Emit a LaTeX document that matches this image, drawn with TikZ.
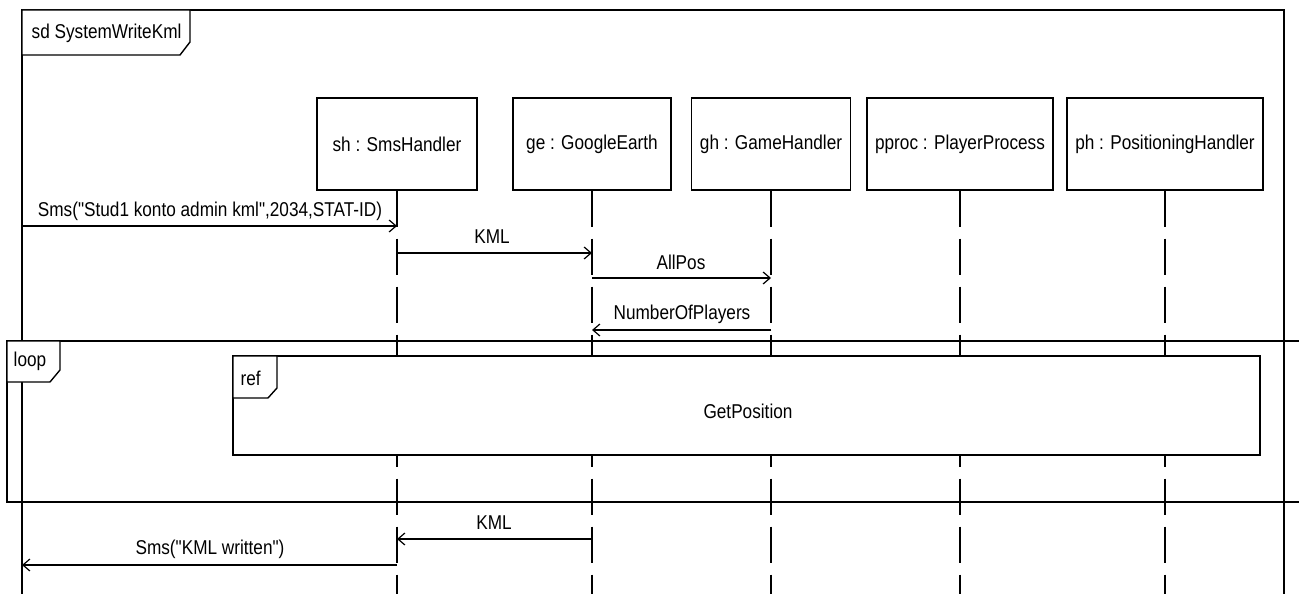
\documentclass[tikz,border=0pt]{standalone}
\usepackage{fontspec}
\setmainfont[FakeStretch=0.86,Ligatures=TeXOff]{Liberation Sans}
\usetikzlibrary{arrows.meta}
\begin{document}
\begin{tikzpicture}[x=1pt,y=-1pt,line width=1.4pt,
  every node/.style={font=\fontsize{20}{23}\selectfont,inner sep=0pt},
  obj/.style={draw,minimum height=92pt},
  lifeline/.style={line width=1.3pt,dash pattern=on 36pt off 12pt},
  msg/.style={line width=1.3pt,-{Straight Barb[length=7pt,width=12pt,line width=1.2pt]}},
  lbl/.style={anchor=center},
  tabbox/.style={draw,fill=white,line width=1.4pt}]
\clip (0,0) rectangle (1299,594);
\fill[white] (0,0) rectangle (1299,594);

% outer sd frame
\draw (22,620) -- (22,10) -- (1284,10) -- (1284,620);
\draw[tabbox] (22,10) -- (190,10) -- (190,42) -- (180,55) -- (22,55) -- cycle;
\node[anchor=west] (sdlbl) at (31,33) {sd SystemWriteKml};

% lifeline heads
\node[obj,minimum width=160pt] (sh) at (397,144) {sh : SmsHandler};
\node[obj,minimum width=158pt] (ge) at (592,144) {ge : GoogleEarth};
\node[obj,minimum width=159pt] (gh) at (771,144) {gh : GameHandler};
\node[obj,minimum width=186pt] (pp) at (960,144) {pproc : PlayerProcess};
\node[obj,minimum width=196pt] (ph) at (1165,144) {ph : PositioningHandler};

\coordinate (bot) at (0,620);
\foreach \n in {sh,ge,gh,pp,ph}{
  \draw[lifeline] (\n.south) -- (\n.south |- bot);
}

% messages
\coordinate (in1) at (22,226);
\coordinate (sh1) at (sh.south |- in1);
\draw[msg] (in1) -- (sh1);
\node[lbl] (t1) at (210,211) {Sms("Stud1 konto admin kml",2034,STAT-ID)};

\coordinate (m2) at (0,253);
\coordinate (sh2) at (sh.south |- m2);
\coordinate (ge2) at (ge.south |- m2);
\draw[msg] (sh2) -- (ge2);
\node[lbl] (t2) at (492,237) {KML};

\coordinate (m3) at (0,278);
\coordinate (ge3) at (ge.south |- m3);
\coordinate (gh3) at (gh.south |- m3);
\draw[msg] (ge3) -- (gh3);
\node[lbl] (t3) at (681,262) {AllPos};

\coordinate (m4) at (0,330);
\coordinate (gh4) at (gh.south |- m4);
\coordinate (ge4) at (ge.south |- m4);
\draw[msg] (gh4) -- (ge4);
\node[lbl] (t4) at (682,314) {NumberOfPlayers};

% loop frame
\draw (1320,341) -- (7,341) -- (7,502) -- (1320,502);
\draw[tabbox] (7,341) -- (60,341) -- (60,370) -- (50,382) -- (7,382) -- cycle;
\node[anchor=west] (looplbl) at (13,361) {loop};

% ref
\draw[fill=white] (233,356) rectangle (1260,455);
\node (refname) at (748,411) {GetPosition};
\draw[tabbox] (233,356) -- (277,356) -- (277,388) -- (268,398) -- (233,398) -- cycle;
\node[anchor=west] (reflbl) at (240,378) {ref};

% return messages
\coordinate (m5) at (0,539);
\coordinate (ge5) at (ge.south |- m5);
\coordinate (sh5) at (sh.south |- m5);
\draw[msg] (ge5) -- (sh5);
\node[lbl] (t5) at (494,523) {KML};

\coordinate (m6) at (0,565);
\coordinate (sh6) at (sh.south |- m6);
\coordinate (out6) at (22,565);
\draw[msg] (sh6) -- (out6);
\node[lbl] (t6) at (210,549) {Sms("KML written")};
\end{tikzpicture}
\end{document}
